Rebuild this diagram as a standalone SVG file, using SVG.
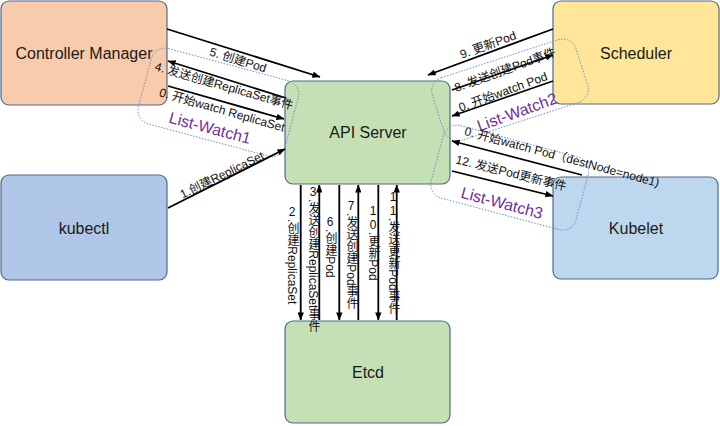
<svg xmlns="http://www.w3.org/2000/svg" width="720" height="426" viewBox="0 0 720 426">
<defs>
<marker id="ah" viewBox="0 0 10 8" refX="9.5" refY="4" markerWidth="8" markerHeight="6.4" orient="auto" markerUnits="userSpaceOnUse">
<path d="M0,0 L10,4 L0,8 z" fill="#000"/>
</marker>
<style>
.box{stroke:#52698a;stroke-width:1.2}
.nt{font-family:"Liberation Sans","Noto Sans CJK SC",sans-serif;font-size:16px;fill:#1a1a1a;text-anchor:middle;dominant-baseline:central}
.ln{stroke:#000;stroke-width:1.8;fill:none;marker-end:url(#ah)}
.lb{font-family:"Liberation Sans","Noto Sans CJK SC",sans-serif;font-size:12px;fill:#111;text-anchor:middle;dominant-baseline:central}
.vt{font-family:"Liberation Sans","Noto Sans CJK SC",sans-serif;font-size:12px;fill:#111;writing-mode:vertical-rl}
.up{text-orientation:upright}
.lw{fill:none;stroke:#6f8cb5;stroke-width:0.9;stroke-dasharray:1.5 1.5}
.lwt{font-family:"Liberation Sans","Noto Sans CJK SC",sans-serif;font-size:16px;fill:#7030a0;text-anchor:middle;dominant-baseline:central}
</style>
</defs>
<rect width="720" height="426" fill="#fff"/>
<g id="nodes">
<g id="controller-manager"><rect class="box" x="1" y="1" width="166" height="104" rx="8" fill="#f8cbad"/><text class="nt" x="84" y="53">Controller Manager</text></g>
<g id="scheduler"><rect class="box" x="553" y="1" width="166" height="103" rx="8" fill="#ffe699"/><text class="nt" x="636" y="53">Scheduler</text></g>
<g id="api-server"><rect class="box" x="285" y="81" width="165" height="103" rx="8" fill="#c5e0b4"/><text class="nt" x="368" y="132">API Server</text></g>
<g id="kubectl"><rect class="box" x="1" y="175" width="166" height="105" rx="8" fill="#b0c6e8"/><text class="nt" x="84" y="228">kubectl</text></g>
<g id="kubelet"><rect class="box" x="553" y="177" width="165" height="102" rx="8" fill="#bdd7ee"/><text class="nt" x="636" y="228">Kubelet</text></g>
<g id="etcd"><rect class="box" x="285" y="321" width="165" height="102" rx="8" fill="#c5e0b4"/><text class="nt" x="368" y="372">Etcd</text></g>
</g>
<g id="list-watch">
<rect class="lw" x="0" y="0" width="152" height="78" rx="14" transform="translate(155,45) rotate(15)"/>
<rect class="lw" x="0" y="0" width="151" height="66" rx="14" transform="translate(428,82) rotate(-18)"/>
<rect class="lw" x="0" y="0" width="150" height="75" rx="14" transform="translate(447,122) rotate(15)"/>
<text class="lwt" transform="translate(210,128) rotate(15)">List-Watch1</text>
<text class="lwt" transform="translate(517,112) rotate(-20)">List-Watch2</text>
<text class="lwt" transform="translate(502,203) rotate(15)">List-Watch3</text>
</g>
<g id="connectors">
<line class="ln" x1="168" y1="208" x2="285" y2="149"/>
<line class="ln" x1="167" y1="29" x2="320" y2="77"/>
<line class="ln" x1="286" y1="98" x2="168" y2="61"/>
<line class="ln" x1="168" y1="86" x2="284" y2="119"/>
<line class="ln" x1="553" y1="29" x2="428" y2="75"/>
<line class="ln" x1="452" y1="90" x2="553" y2="55"/>
<line class="ln" x1="553" y1="81" x2="452" y2="116"/>
<line class="ln" x1="582" y1="175" x2="452" y2="141"/>
<line class="ln" x1="452" y1="171" x2="553" y2="196"/>
<line class="ln" x1="300.7" y1="185" x2="300.7" y2="320"/>
<line class="ln" x1="319.3" y1="320" x2="319.3" y2="185"/>
<line class="ln" x1="339.3" y1="185" x2="339.3" y2="320"/>
<line class="ln" x1="358.3" y1="320" x2="358.3" y2="185"/>
<line class="ln" x1="378.3" y1="185" x2="378.3" y2="320"/>
<line class="ln" x1="396.7" y1="320" x2="396.7" y2="185"/>
<text class="lb" transform="translate(222,175) rotate(-26)">1.创建ReplicaSet</text>
<text class="lb" transform="translate(238,60) rotate(17)">5. 创建Pod</text>
<text class="lb" transform="translate(224,86) rotate(16)">4. 发送创建ReplicaSet事件</text>
<text class="lb" transform="translate(222,110) rotate(16)">0. 开始watch ReplicaSet</text>
<text class="lb" transform="translate(488,45) rotate(-20)">9. 更新Pod</text>
<text class="lb" transform="translate(505,70) rotate(-20)">8. 发送创建Pod事件</text>
<text class="lb" transform="translate(503,92) rotate(-20)">0. 开始watch Pod</text>
<text class="lb" transform="translate(562,157) rotate(15)">0. 开始watch Pod（destNode=node1)</text>
<text class="lb" transform="translate(511,173) rotate(14)">12. 发送Pod更新事件</text>
<text class="vt" x="292" y="205"><tspan class="up">2</tspan>.创建ReplicaSet</text>
<text class="vt" x="313" y="185"><tspan class="up">3</tspan>.发送创建ReplicaSet事件</text>
<text class="vt" x="330" y="215"><tspan class="up">6</tspan>.创建Pod</text>
<text class="vt" x="351" y="199"><tspan class="up">7</tspan>.发送创建Pod事件</text>
<text class="vt" x="373" y="204"><tspan class="up">10</tspan>.更新Pod</text>
<text class="vt" x="393" y="190"><tspan class="up">11</tspan>.发送更新Pod事件</text>
</g>
</svg>
